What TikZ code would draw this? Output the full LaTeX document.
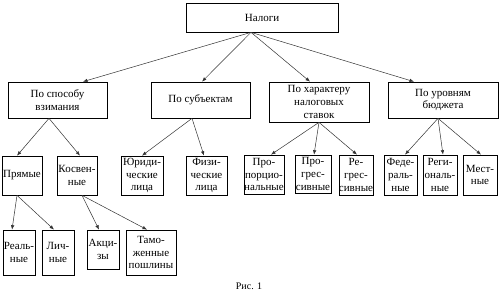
\documentclass[tikz,border=0pt]{standalone}
\usepackage{fontspec}
\setmainfont{Liberation Serif}
\usetikzlibrary{arrows.meta}
\begin{document}
\begin{tikzpicture}[x=1pt,y=-1pt,
  box/.style={draw=black,line width=0.7pt,inner sep=0pt,align=center,
    font=\fontsize{11}{12.8}\selectfont},
  conn/.style={line width=0.5pt,draw=black!80,-{Latex[length=4.5pt,width=3.5pt]}}]
\useasboundingbox (0,0) rectangle (500,298);
% level 0
\node[box,minimum width=152pt,minimum height=29pt] (nalogi) at (262,17.5) {Налоги};
% level 1
\node[box,minimum width=99pt,minimum height=36pt] (sposob) at (57.5,100) {По способу\\взимания};
\node[box,minimum width=99pt,minimum height=36pt] (subj) at (200.5,100) {По субъектам};
\node[box,minimum width=100pt,minimum height=40pt] (harakter) at (319,102) {По характеру\\налоговых\\ставок};
\node[box,minimum width=110pt,minimum height=36pt] (uroven) at (443,100) {По уровням\\бюджета};
% level 2
\node[box,minimum width=40pt,minimum height=39pt] (pryamye) at (22,175.5) {Прямые};
\node[box,minimum width=40pt,minimum height=39pt] (kosv) at (77,175.5) {Косвен-\\ные};
\node[box,minimum width=42pt,minimum height=39pt] (yur) at (142,175.5) {Юриди-\\ческие\\лица};
\node[box,minimum width=41pt,minimum height=39pt] (fiz) at (206.5,175.5) {Физи-\\ческие\\лица};
\node[box,minimum width=40pt,minimum height=39pt] (prop) at (264,174.5) {Про-\\порцио-\\нальные};
\node[box,minimum width=36pt,minimum height=38pt] (progr) at (313,174) {Про-\\грес-\\сивные};
\node[box,minimum width=34pt,minimum height=40pt] (regr) at (356,175) {Ре-\\грес-\\сивные};
\node[box,minimum width=33pt,minimum height=40pt] (fed) at (400.5,175) {Феде-\\раль-\\ные};
\node[box,minimum width=34pt,minimum height=40pt] (reg) at (440,175) {Реги-\\ональ-\\ные};
\node[box,minimum width=34pt,minimum height=40pt] (mest) at (480,175) {Мест-\\ные};
% level 3
\node[box,minimum width=32pt,minimum height=45pt] (real) at (19,252.5) {Реаль-\\ные};
\node[box,minimum width=32pt,minimum height=45pt] (lich) at (58,252.5) {Лич-\\ные};
\node[box,minimum width=32pt,minimum height=39pt] (akc) at (103,249.5) {Акци-\\зы};
\node[box,minimum width=50pt,minimum height=45pt] (tam) at (151,252.5) {Тамо-\\женные\\пошлины};
% caption
\node[font=\fontsize{10}{12}\selectfont,inner sep=0pt] (cap) at (249,286) {Рис. 1};
% connectors
\draw[conn] ([xshift=-11pt]nalogi.south) -- ([xshift=25.5pt]sposob.north);
\draw[conn] ([xshift=-11pt]nalogi.south) -- ([xshift=1.5pt]subj.north);
\draw[conn] ([xshift=-11pt]nalogi.south) -- ([xshift=-9pt]harakter.north);
\draw[conn] ([xshift=-11pt]nalogi.south) -- ([xshift=-29pt]uroven.north);
\draw[conn] ([xshift=-8.5pt]sposob.south) -- ([xshift=-5pt]pryamye.north);
\draw[conn] ([xshift=-8.5pt]sposob.south) -- ([xshift=3pt]kosv.north);
\draw[conn] ([xshift=-8.5pt]subj.south) -- (yur.north);
\draw[conn] ([xshift=-8.5pt]subj.south) -- ([xshift=-2.5pt]fiz.north);
\draw[conn] (harakter.south) -- ([xshift=7pt]prop.north);
\draw[conn] (harakter.south) -- ([xshift=1pt]progr.north);
\draw[conn] (harakter.south) -- ([xshift=1pt]regr.north);
\draw[conn] ([xshift=-5pt]uroven.south) -- ([xshift=4.5pt]fed.north);
\draw[conn] ([xshift=-5pt]uroven.south) -- ([xshift=3pt]reg.north);
\draw[conn] ([xshift=-5pt]uroven.south) -- ([xshift=1pt]mest.north);
\draw[conn] ([xshift=-5pt]pryamye.south) -- ([xshift=-7pt]real.north);
\draw[conn] ([xshift=-5pt]pryamye.south) -- ([xshift=-4pt]lich.north);
\draw[conn] ([xshift=5pt]kosv.south) -- ([xshift=-4pt]akc.north);
\draw[conn] ([xshift=5pt]kosv.south) -- ([xshift=-4pt]tam.north);
\end{tikzpicture}
\end{document}
